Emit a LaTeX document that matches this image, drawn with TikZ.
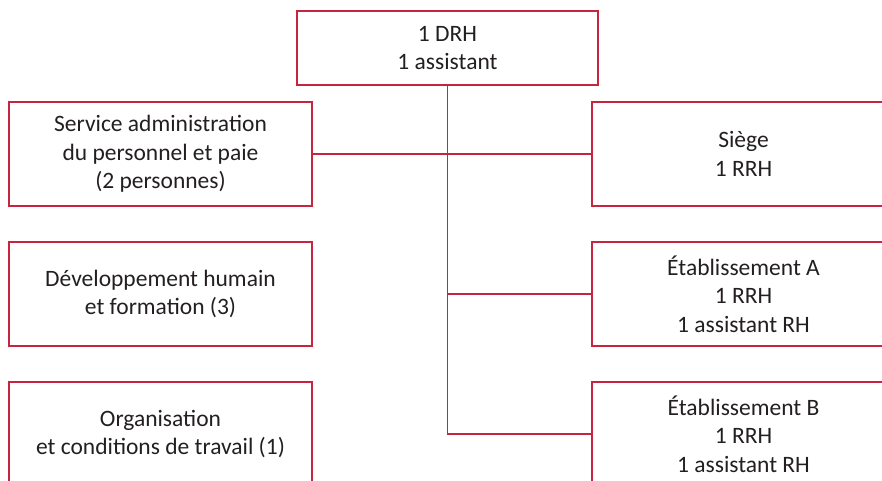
\documentclass[tikz,border=0pt]{standalone}
\usepackage{fontspec}
\setmainfont{Carlito}
\usetikzlibrary{
	positioning
}
\definecolor{boxcolor}{HTML}{C8233F}
\definecolor{textcolor}{HTML}{231F20}
\tikzset{
	unitbox/.style={
		draw=boxcolor,
		line width=1.5pt,
		minimum width=303pt,
		minimum height=104pt,
		align=center,
		text=textcolor,
		font=\fontsize{23.5}{28.5}\selectfont
	},
	headbox/.style={
		unitbox,
		minimum width=301pt,
		minimum height=74pt
	},
	link/.style={
		draw=boxcolor,
		line width=1.5pt
	}
}
\begin{document}
\begin{tikzpicture}[x=1pt,y=-1pt,node distance=34.5pt]
	\useasboundingbox (0,0) rectangle (882,481);
	
	% Top
	\node[headbox] (drh) at (447.5,48) {1 DRH\\1 assistant};
	
	% Left column
	\node[unitbox] (sap) at (160.5,154)
	{Service administration\\
		du personnel et paie\\
		(2 personnes)};
	
	\node[unitbox, below=of sap] (dhf)
	{Développement humain\\
		et formation (3)};
	
	\node[unitbox, below=of dhf] (oct)
	{Organisation\\
		et conditions de travail (1)};
	
	% Right column
	\node[unitbox] (siege) at (743.5,154)
	{Siège\\
		1 RRH};
	
	\node[unitbox, below=of siege] (etabA)
	{Établissement A\\
		1 RRH\\
		1 assistant RH};
	
	\node[unitbox, below=of etabA] (etabB)
	{Établissement B\\
		1 RRH\\
		1 assistant RH};
	
	% Links
	\coordinate (trunkA) at (drh.south |- etabA.west);
	\draw[link] (drh.south) |- (etabB.west);
	\draw[link] (sap.east) -- (siege.west);
	\draw[link] (trunkA) -- (etabA.west);
	
\end{tikzpicture}
\end{document}
